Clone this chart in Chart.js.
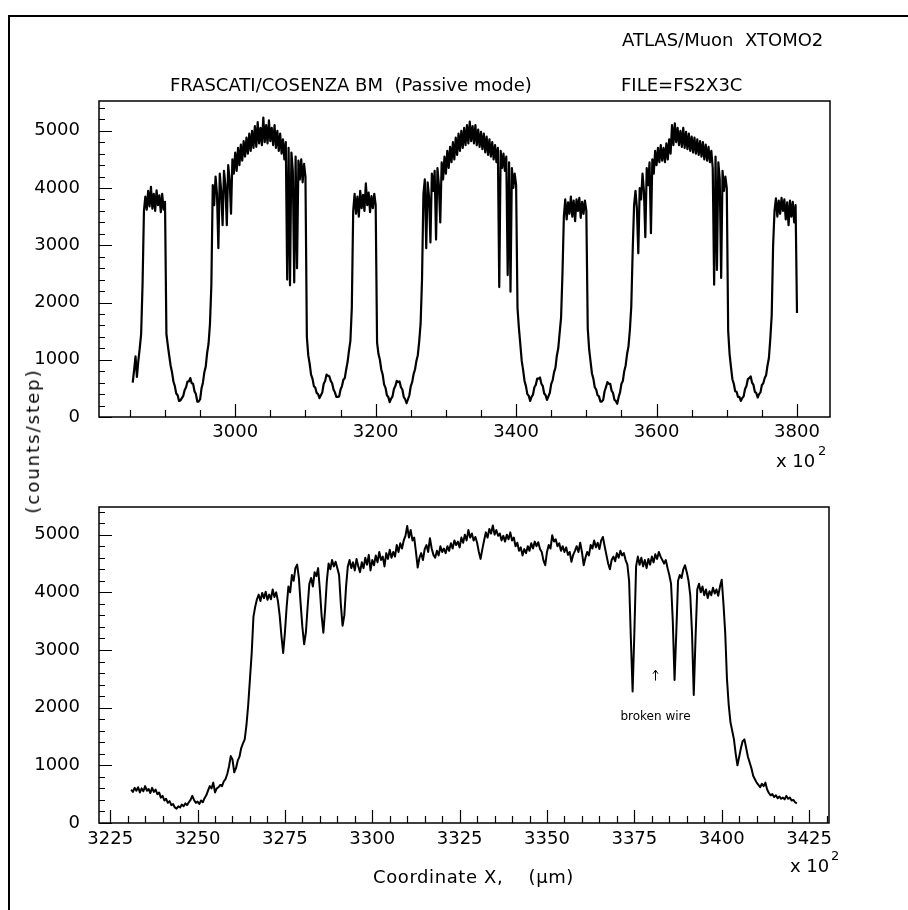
<!DOCTYPE html>
<html>
<head>
<meta charset="utf-8">
<title>ATLAS/Muon XTOMO2</title>
<script src="https://cdn.jsdelivr.net/npm/chart.js@4.4.1/dist/chart.umd.min.js"></script>
<style>
  body { margin: 0; background: #fff; }
  #page { position: relative; width: 908px; height: 910px; overflow: hidden; font-family: "DejaVu Sans", sans-serif; color: #000; }
  #page canvas { position: absolute; left: 0; top: 0; }
  .txt { position: absolute; white-space: pre; line-height: 1; font-size: 18px; }
  .frame { position: absolute; background: #000; }
</style>
</head>
<body>
<div id="page">
  <div class="frame" style="left:8px; top:15px; width:900px; height:1.5px"></div>
  <div class="frame" style="left:8px; top:15px; width:1.5px; height:895px"></div>
  <canvas id="topCanvas" width="908" height="910"></canvas>
  <canvas id="bottomCanvas" width="908" height="910"></canvas>

  <div class="txt" style="left:622px; top:31px">ATLAS/Muon  XTOMO2</div>
  <div class="txt" style="left:170px; top:76px">FRASCATI/COSENZA BM  (Passive mode)</div>
  <div class="txt" style="left:621px; top:76px">FILE=FS2X3C</div>

  <div class="txt" style="left:776px; top:452px">x 10</div>
  <div class="txt" style="left:818px; top:444px; font-size:13px">2</div>
  <div class="txt" style="left:790px; top:857px">x 10</div>
  <div class="txt" style="left:831px; top:849px; font-size:13px">2</div>

  <div class="txt" style="left:33px; top:441px; letter-spacing:2px; transform: translate(-50%,-50%) rotate(-90deg)">(counts/step)</div>
  <div class="txt" style="left:373px; top:868px; letter-spacing:0.6px">Coordinate X,    (μm)</div>
</div>

<script>
// Top scan: whole chamber, one value every 2 (x 10^2 um)
const topStep = 2;
const topSegStart = [2854, 2872, 2902, 2968, 3102, 3168, 3202, 3268, 3402, 3468, 3502, 3568, 3702, 3768];
const topCounts = [
    [600, 820, 1060, 700, 980, 1200, 1450, 2300, 3600],
    [3850, 3620, 3950, 3680, 4020, 3640, 3900, 3600, 3960, 3700, 3870, 3580, 3900, 3620, 3760],
    [1450, 1250, 1070, 900, 780, 620, 540, 410, 380, 280, 290, 330, 370, 470, 520, 620, 620, 680, 590, 580,
     450, 400, 270, 270, 310, 500, 600, 780, 880, 1120, 1280, 1620, 2300],
    [4050, 3700, 4200, 3900, 2950, 4250, 3950, 3350, 4300, 4050, 3350, 4400, 4150, 3550, 4500, 4250, 4620, 4300, 4700, 4400,
     4760, 4480, 4820, 4550, 4880, 4600, 4950, 4650, 5000, 4700, 5080, 4720, 5150, 4780, 5050, 4750, 5230, 4800, 5100, 4780,
     5180, 4820, 5050, 4750, 5100, 4700, 5000, 4650, 4950, 4600, 4850, 4500, 4800, 2400, 4700, 2300, 4620, 4300, 2350, 4550,
     2600, 4480, 4150, 4500, 4100, 4420, 4200],
    [1400, 1080, 930, 740, 670, 540, 510, 420, 400, 330, 380, 430, 580, 630, 740, 720, 710, 630, 590, 480,
     430, 350, 350, 360, 480, 540, 650, 680, 830, 960, 1160, 1330, 1900],
    [3600, 3900, 3550, 3850, 3500, 3950, 3650, 3880, 3600, 4080, 3700, 3920, 3580, 3860, 3650, 3900, 3700],
    [1300, 1100, 1000, 830, 740, 570, 510, 380, 350, 260, 320, 360, 490, 540, 630, 610, 620, 520, 480, 350,
     310, 240, 310, 380, 540, 610, 750, 830, 980, 1080, 1320, 1630, 2400],
    [3900, 4150, 2950, 4100, 3850, 3050, 4250, 3950, 4300, 3100, 4350, 4050, 3400, 4450, 4150, 4550, 4250, 4650, 4350, 4720,
     4450, 4800, 4500, 4880, 4580, 4950, 4650, 5000, 4700, 5050, 4750, 5100, 4780, 5160, 4820, 5080, 4780, 5100, 4750, 5020,
     4720, 4980, 4680, 4950, 4620, 4900, 4580, 4850, 4550, 4800, 4500, 4750, 4450, 4700, 2270, 4650, 4350, 4600, 4300, 4550,
     2480, 4450, 2190, 4350, 4000, 4250, 4050],
    [1900, 1550, 1270, 980, 820, 630, 540, 400, 370, 280, 350, 390, 520, 560, 670, 670, 690, 580, 540, 410,
     380, 300, 360, 420, 580, 640, 780, 860, 1070, 1200, 1470, 1730, 2500],
    [3500, 3800, 3450, 3750, 3550, 3850, 3500, 3780, 3420, 3800, 3600, 3830, 3480, 3760, 3550, 3780, 3600],
    [1550, 1180, 970, 760, 670, 520, 480, 380, 360, 270, 270, 300, 450, 520, 610, 580, 580, 460, 420, 300,
     280, 230, 350, 430, 580, 630, 800, 900, 1100, 1230, 1520, 1930, 2900],
    [3700, 3950, 3650, 2860, 4000, 3800, 4250, 3950, 3140, 4350, 4050, 4450, 3210, 4500, 4250, 4650, 4400, 4700, 4450, 4750,
     4480, 4700, 4450, 4780, 4500, 4850, 4600, 5100, 4750, 5130, 4800, 5050, 4750, 5000, 4720, 5050, 4700, 4980, 4680, 4950,
     4650, 4900, 4620, 4880, 4600, 4850, 4580, 4820, 4550, 4800, 4500, 4760, 4480, 4720, 4450, 4650, 4350, 2310, 4550, 2570,
     4450, 4150, 2430, 4300, 3950, 4200, 4000],
    [1500, 1100, 870, 660, 580, 450, 440, 350, 350, 280, 330, 360, 490, 540, 660, 680, 710, 600, 560, 440,
     420, 340, 400, 430, 560, 590, 680, 730, 900, 1030, 1370, 1780, 3000],
    [3600, 3820, 3500, 3780, 3550, 3830, 3600, 3800, 3450, 3750, 3350, 3780, 3500, 3760, 3400, 3700, 1815]
];

// Bottom scan: one chamber zoomed, one value every 0.5 (x 10^2 um)
const bottomStep = 0.5;
const bottomSegStart = [3231, 3244.5, 3267, 3296.5, 3330.5, 3374, 3401];
const bottomCounts = [
    [580, 540, 610, 560, 620, 530, 600, 550, 640, 560, 590, 520, 610, 540, 580, 500, 530, 440, 470, 390,
     420, 350, 380, 310, 330, 270, 250],
    [290, 270, 320, 290, 340, 310, 360, 400, 470, 400, 350, 370, 330, 390, 360, 430, 480, 560, 640, 600,
     700, 530, 600, 620, 660, 640, 720, 760, 850, 980, 1160, 1100, 880, 950, 1080, 1150, 1300, 1380, 1450, 1700,
     2050, 2500, 2950, 3580, 3750],
    [3880, 3960, 3850, 3990, 3900, 4010, 3870, 3960, 3880, 4050, 3920, 4000, 3850, 3600, 3250, 2950, 3300, 3750, 4100, 4000,
     4300, 4200, 4420, 4480, 4250, 3800, 3400, 3100, 3300, 3750, 4150, 4250, 4100, 4350, 4280, 4420, 4050, 3600, 3300, 3700,
     4200, 4500, 4400, 4560, 4450, 4530, 4420, 4300, 3800, 3420, 3600, 4100, 4450, 4560, 4420, 4520, 4380, 4580, 4450],
    [4350, 4520, 4420, 4600, 4480, 4650, 4380, 4560, 4470, 4640, 4520, 4700, 4560, 4620, 4450, 4680, 4580, 4740, 4600, 4700,
     4620, 4820, 4700, 4850, 4760, 4900, 4980, 5150, 4950, 5080, 4900, 4950, 4700, 4430, 4600, 4680, 4560, 4750, 4820, 4700,
     4940, 4760, 4650, 4600, 4720, 4640, 4800, 4700, 4760, 4680, 4800, 4720, 4850, 4760, 4900, 4820, 4880, 4780, 4950, 4860,
     5000, 4900, 5080, 4950, 5020, 4900, 4960, 4860],
    [4700, 4580, 4750, 4900, 5040, 4950, 5100, 5020, 5160, 5000, 5080, 4980, 5020, 4900, 4980, 4880, 5000, 4920, 5040, 4900,
     4950, 4800, 4860, 4720, 4780, 4640, 4750, 4680, 4800, 4720, 4850, 4760, 4880, 4800, 4870, 4750, 4700, 4550, 4470, 4700,
     4820, 4760, 4990, 4880, 4920, 4800, 4850, 4720, 4800, 4700, 4780, 4650, 4700, 4530, 4650, 4720, 4800, 4700, 4860, 4700,
     4470, 4600, 4700, 4640, 4820, 4760, 4900, 4780, 4860, 4750, 4900, 4960, 4800, 4650, 4500, 4400, 4560, 4620, 4540, 4680,
     4600, 4720, 4640, 4680, 4560, 4480, 4200],
    [3200, 2280, 3300, 4450, 4620, 4480, 4600, 4450, 4560, 4420, 4580, 4480, 4620, 4520, 4660, 4580, 4700, 4620, 4560, 4500,
     4560, 4420, 4300, 4150, 3500, 2480, 3300, 4200, 4300, 4250, 4400, 4470, 4350, 4200, 3950, 3300, 2220, 3200, 4050, 4150,
     4000, 4100, 3950, 4050, 3900, 4020, 3950, 4080, 3980, 4050, 3940, 4100, 4220, 3800],
    [3300, 2500, 2050, 1750, 1600, 1450, 1200, 1000, 1150, 1300, 1420, 1450, 1300, 1150, 1050, 950, 820, 760, 700, 660,
     620, 680, 640, 700, 580, 520, 480, 500, 450, 480, 430, 460, 420, 440, 410, 470, 420, 440, 390, 400,
     360, 340]
];

// annotation on the zoomed scan
const noteX = 3381;
const noteTextY = 1840;
const arrowFrom = 2470;
const arrowTo = 2650;

function toPoints(starts, segs, step) {
    const pts = [];
    segs.forEach((seg, k) => {
        seg.forEach((v, j) => pts.push({x: starts[k] + j * step, y: v}));
    });
    return pts;
}

// box round the plot with inward tick marks, HBOOK style
const hbookFrame = {
    id: 'hbookFrame',
    afterDatasetsDraw(chart) {
        const {ctx, chartArea: a, scales} = chart;
        ctx.save();
        ctx.strokeStyle = '#000';
        ctx.lineWidth = 1.5;
        ctx.strokeRect(a.left, a.top, a.right - a.left, a.bottom - a.top);
        ctx.lineWidth = 1.2;
        ctx.beginPath();
        for (const t of scales.x.ticks) {
            const px = Math.round(scales.x.getPixelForValue(t.value)) + 0.5;
            ctx.moveTo(px, a.bottom);
            ctx.lineTo(px, a.bottom - (t.label ? 13 : 7));
        }
        for (const t of scales.y.ticks) {
            const py = Math.round(scales.y.getPixelForValue(t.value)) + 0.5;
            ctx.moveTo(a.left, py);
            ctx.lineTo(a.left + (t.label ? 13 : 6), py);
        }
        ctx.stroke();
        ctx.restore();
    }
};

const brokenWireNote = {
    id: 'brokenWireNote',
    afterDatasetsDraw(chart) {
        const {ctx, scales: {x, y}} = chart;
        const px = Math.round(x.getPixelForValue(noteX)) + 0.5;
        const top = y.getPixelForValue(arrowTo);
        const bot = y.getPixelForValue(arrowFrom);
        ctx.save();
        ctx.fillStyle = '#000';
        ctx.strokeStyle = '#000';
        ctx.lineWidth = 1;
        ctx.font = '12px "DejaVu Sans"';
        ctx.textAlign = 'center';
        ctx.textBaseline = 'middle';
        ctx.fillText('broken wire', px, y.getPixelForValue(noteTextY));
        ctx.beginPath();
        ctx.moveTo(px, bot);
        ctx.lineTo(px, top);
        ctx.moveTo(px - 2.5, top + 3.5);
        ctx.lineTo(px, top);
        ctx.lineTo(px + 2.5, top + 3.5);
        ctx.stroke();
        ctx.restore();
    }
};

const tickFont = {family: 'DejaVu Sans', size: 18};

function drawScan(canvasId, points, xMin, xMax, xStep, xMajor, yMax, padding, lineWidth, labelPad, extra) {
    return new Chart(document.getElementById(canvasId), {
        type: 'line',
        data: {
            datasets: [{
                data: points,
                borderColor: '#000',
                borderWidth: lineWidth,
                borderJoinStyle: 'round',
                pointRadius: 0,
                tension: 0,
                fill: false
            }]
        },
        options: {
            responsive: false,
            animation: false,
            events: [],
            layout: {padding: padding},
            plugins: {legend: {display: false}, tooltip: {enabled: false}},
            scales: {
                x: {
                    type: 'linear',
                    min: xMin,
                    max: xMax,
                    grid: {display: false, drawTicks: false},
                    border: {display: false},
                    ticks: {
                        stepSize: xStep,
                        includeBounds: false,
                        autoSkip: false,
                        maxRotation: 0,
                        padding: labelPad,
                        color: '#000',
                        font: tickFont,
                        callback: v => (v % xMajor === 0 ? String(v) : '')
                    },
                    afterFit: s => { s.height = 50; s.paddingLeft = 0; s.paddingRight = 0; }
                },
                y: {
                    min: 0,
                    max: yMax,
                    grid: {display: false, drawTicks: false},
                    border: {display: false},
                    ticks: {
                        stepSize: 200,
                        includeBounds: false,
                        autoSkip: false,
                        padding: 19,
                        color: '#000',
                        font: tickFont,
                        callback: v => (v % 1000 === 0 ? String(v) : '')
                    },
                    afterFit: s => { s.width = 99; s.paddingTop = 0; s.paddingBottom = 0; }
                }
            }
        },
        plugins: [hbookFrame].concat(extra || [])
    });
}

drawScan('topCanvas', toPoints(topSegStart, topCounts, topStep),
    2806, 3847, 50, 200, 5520, {left: 0, right: 78, top: 101, bottom: 443}, 2.2, 5);

drawScan('bottomCanvas', toPoints(bottomSegStart, bottomCounts, bottomStep),
    3221.8, 3430.7, 5, 25, 5480, {left: 0, right: 79, top: 507, bottom: 37}, 2, 6, [brokenWireNote]);
</script>
</body>
</html>
